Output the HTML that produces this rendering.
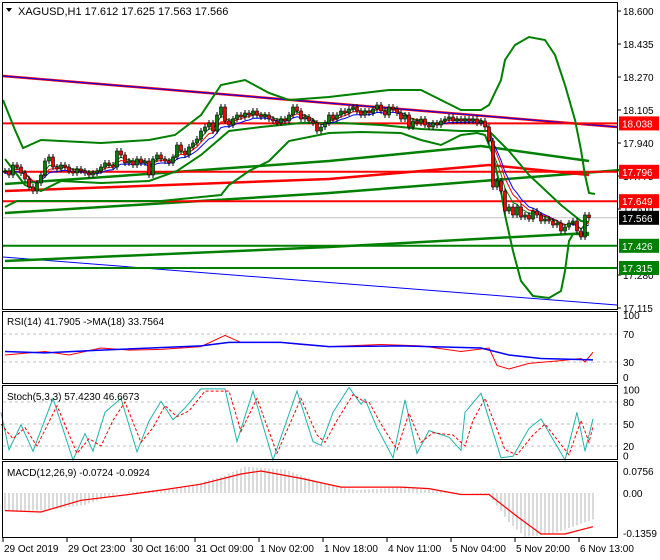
<!DOCTYPE html>
<html><head><meta charset="utf-8"><style>
html,body{margin:0;padding:0;background:#fff;}
svg{display:block;font-family:"Liberation Sans",sans-serif;}
</style></head><body>
<svg id="chart" width="660" height="560" xmlns="http://www.w3.org/2000/svg">
<rect x="0" y="0" width="660" height="560" fill="#fff"/>
<g id="main"></g>
<g id="rsi"></g>
<g id="stoch"></g>
<g id="macd"></g>
<g id="frame">
<rect x="2.5" y="2.5" width="615" height="307" fill="none" stroke="#000"/>
<rect x="2.5" y="311.5" width="615" height="72" fill="none" stroke="#000"/>
<rect x="2.5" y="385.5" width="615" height="74" fill="none" stroke="#000"/>
<rect x="2.5" y="461.5" width="615" height="76" fill="none" stroke="#000"/>
</g>
<text x="18" y="15" font-size="11">XAGUSD,H1  17.612 17.625 17.563 17.566</text>
<path d="M6,8 L12,8 L9,12 Z" fill="#000"/>
<text x="7" y="325" font-size="10">RSI(14) 41.7905  -&gt;MA(18) 33.7564</text>
<text x="7" y="400" font-size="10">Stoch(5,3,3) 57.4230 46.6673</text>
<text x="7" y="476" font-size="10">MACD(12,26,9) -0.0724 -0.0924</text>
<g id="dates"></g>
</svg>
<script>
// ---------- data ----------
const closes=[17.80,17.78,17.83,17.82,17.79,17.76,17.72,17.70,17.74,17.78,17.85,17.87,17.82,
17.81,17.83,17.82,17.80,17.79,17.81,17.80,17.79,17.78,17.79,17.80,17.82,17.84,17.83,17.82,17.90,
17.88,17.84,17.85,17.83,17.86,17.84,17.85,17.78,17.86,17.88,17.86,17.85,17.84,17.87,
17.93,17.90,17.88,17.92,17.94,17.96,18.00,18.02,18.04,18.00,18.08,18.12,18.05,
18.03,18.06,18.08,18.07,18.09,18.08,18.10,18.08,18.07,18.08,18.06,18.05,18.04,18.06,18.05,18.08,
18.12,18.10,18.06,18.07,18.05,18.04,18.00,18.02,18.04,18.08,
18.06,18.08,18.10,18.09,18.11,18.12,18.10,18.08,18.10,18.09,18.11,18.13,18.10,18.08,18.12,18.11,18.09,18.06,18.08,
18.02,18.05,18.04,18.06,18.03,18.02,18.04,18.03,18.05,18.06,18.07,18.05,18.06,18.05,
18.06,18.05,18.06,18.04,18.05,18.02,17.95,17.72,17.75,17.70,17.60,17.62,17.58,
17.62,17.57,17.58,17.56,17.60,17.58,17.55,17.56,17.55,17.53,17.54,17.50,17.52,
17.54,17.55,17.50,17.47,17.58,17.566];
const priceTicks=[18.600,18.435,18.270,18.105,17.940,17.775,17.610,17.280,17.115];
const redLevels=[18.038,17.796,17.649];
const greenLevels=[17.426,17.315];
const lastPrice=17.566;
// indicator series as [barIndex, value]
const bbUpper=[[-0.5,18.155],[2.5,18.005],[4.5,17.915],[9,17.955],[24,17.94],[36,17.955],[42.5,17.98],[49,18.08],[54,18.23],[60,18.255],[66,18.19],[71,18.155],[81,18.17],[96,18.205],[104,18.205],[109,18.155],[114,18.105],[119,18.105],[121,18.13],[124,18.255],[125,18.355],[127.5,18.43],[131,18.47],[135,18.455],[137.5,18.38],[140,18.23],[142.5,18.055],[144,17.905],[145,17.78],[146,17.69],[147.5,17.685]];
const bbMid=[[0,17.86],[5,17.73],[9,17.70],[14,17.75],[24,17.74],[36,17.75],[43,17.80],[49,17.88],[56,18.00],[64,18.02],[74,18.04],[84,18.04],[94,18.03],[104,18.01],[114,18.00],[121,18.00],[126,17.90],[131,17.78],[139,17.63],[144,17.55],[146,17.545]];
const bbLower=[[0,17.62],[3,17.65],[7,17.65],[14,17.65],[24,17.65],[39,17.65],[49,17.67],[54,17.68],[56,17.73],[61,17.80],[66,17.85],[71,17.95],[81,17.99],[89,17.995],[99,17.99],[104,17.955],[109,17.93],[114,17.98],[118,17.99],[120,17.98],[122,17.88],[124,17.70],[125,17.58],[127,17.40],[129,17.25],[132,17.175],[136,17.165],[139,17.20],[140,17.30],[141,17.45],[142,17.485],[146,17.48]];
const dGreenA=[[0,17.735],[39,17.79],[81,17.85],[119,17.925],[146,17.85]];
const dRed=[[0,17.70],[81,17.76],[121,17.83],[146,17.78]];
const dGreenB=[[0,17.59],[81,17.69],[154,17.805]];
const dGreenC=[[0,17.35],[81,17.42],[146,17.49]];
const trendTop=[[-0.5,18.275],[153,18.02]];
const trendLow=[[-0.5,17.37],[153,17.13]];
const rsiVals=[[0,40],[10,45],[16,40],[24,50],[31,47],[39,48],[49,52],[55,68],[59,58],[69,58],[74,55],[81,52],[94,55],[104,53],[114,45],[121,50],[123,25],[126,20],[131,28],[139,32],[144,35],[145,30],[147,44]];
const rsiMA=[[0,45],[10,43],[24,47],[49,53],[56,58],[69,58],[81,52],[99,53],[119,50],[126,40],[134,35],[147,33]];
const rsiTicks=[100,70,30,0];
const stochK=[[-1,66],[1,15],[4,49],[7,13],[12,85],[17,1],[20,37],[22,13],[25,66],[29,85],[33,12],[36,54],[39,81],[42,56],[45,72],[49,98],[55,98],[58,26],[62,95],[67,1],[73,95],[77,26],[79,21],[82,66],[86,100],[89,77],[90,84],[93,45],[97,4],[100,83],[103,10],[106,41],[111,32],[114,14],[115,66],[119,92],[124,4],[127,6],[131,44],[134,57],[140,1],[143,66],[145,13],[147,57]];
const stochD=[[-1,50],[2,30],[5,45],[8,20],[13,75],[18,10],[21,30],[24,20],[27,55],[30,80],[34,25],[37,45],[40,75],[43,60],[46,68],[50,95],[56,95],[59,40],[63,85],[68,10],[74,85],[78,35],[80,25],[83,55],[87,90],[90,80],[91,80],[94,50],[98,15],[101,65],[104,25],[107,38],[112,35],[115,20],[117,55],[120,85],[125,15],[128,8],[132,35],[135,50],[141,8],[144,55],[146,25],[147,47]];
const stochTicks=[100,80,50,20,0];
const macdSignal=[[0,-0.06],[9,-0.065],[19,-0.025],[31,-0.005],[39,0.01],[49,0.03],[59,0.065],[64,0.075],[74,0.05],[84,0.02],[99,0.02],[106,0.015],[114,-0.005],[121,-0.005],[128,-0.08],[134,-0.14],[140,-0.14],[147,-0.115]];
const macdHist=[[0,-0.06],[10,-0.06],[20,-0.04],[29,0],[45,0.02],[55,0.06],[60,0.09],[70,0.08],[80,0.03],[88,0.01],[100,0.02],[110,0.005],[121,-0.005],[126,-0.1],[130,-0.15],[137,-0.14],[147,-0.09]];
const macdTicks=[0.0756,0.00,-0.1359];
const dateLabels=["29 Oct 2019","29 Oct 23:00","30 Oct 16:00","31 Oct 09:00","1 Nov 02:00","1 Nov 18:00","4 Nov 11:00","5 Nov 04:00","5 Nov 20:00","6 Nov 13:00"];
const dateBars=[0,16,32,48,64,80,96,112,128,144];

// ---------- axes ----------
const NS="http://www.w3.org/2000/svg";
const xb=i=>5+i*4;
const yP=p=>11+(18.6-p)*200;
const yR=v=>383-v*0.7;
const yS=v=>460.7-v*0.733;
const yM=v=>493-v*293;
function mk(par,tag,at){const e=document.createElementNS(NS,tag);for(const k in at)e.setAttribute(k,at[k]);document.getElementById(par).appendChild(e);return e;}
function line(par,pts,fy,col,w,name,dash){
  const d=pts.map((p,i)=>(i?'L':'M')+xb(p[0]).toFixed(1)+','+fy(p[1]).toFixed(1)).join(' ');
  const e=mk(par,'path',{d:d,fill:'none',stroke:col,'stroke-width':w});
  if(dash)e.setAttribute('stroke-dasharray',dash);
  
  
  return e;
}
function hline(par,y,col,w,name,dash){
  const e=mk(par,'line',{x1:3,x2:617,y1:y,y2:y,stroke:col,'stroke-width':w});
  if(dash)e.setAttribute('stroke-dasharray',dash);
  
  
}
function label(par,x,y,txt,name,col){
  const t=mk(par,'text',{x:x,y:y,'font-size':10,fill:col||'#000'});t.textContent=txt;
  
  
}

// ---------- price pane ----------
priceTicks.forEach(p=>{
  mk('main','line',{x1:617,x2:621,y1:yP(p),y2:yP(p),stroke:'#000'});
  label('main',623,yP(p)+4,p.toFixed(3),'price-tick');
});
hline('main',yP(lastPrice),'#c0c0c0',1,'last-price-line');
line('main',trendLow,yP,'#0000ff',1,'lower-trendline');
line('main',dGreenC,yP,'#008000',2.5,'green-channel-lower');
line('main',dGreenB,yP,'#008000',2.5,'green-channel-mid');
line('main',dRed,yP,'#ff0000',2.5,'red-channel');
line('main',dGreenA,yP,'#008000',2.5,'green-channel-upper');
line('main',trendTop,yP,'#ff0000',2.5,'upper-trendline-red');
line('main',trendTop,yP,'#0000ff',1,'upper-trendline-blue');
redLevels.forEach(p=>hline('main',yP(p),'#ff0000',2,'resistance-level'));
greenLevels.forEach(p=>hline('main',yP(p),'#008000',2,'support-level'));
line('main',bbUpper,yP,'#008000',2,'bollinger-upper');
line('main',bbLower,yP,'#008000',2,'bollinger-lower');
line('main',bbMid,yP,'#008000',2,'bollinger-middle');
// EMAs computed from closes
function ema(n,off){let e=closes[0];const out=[];closes.forEach((c,i)=>{e=e+(c-e)*2/(n+1);out.push([i,e+off]);});return out;}
line('main',ema(8,-0.01),yP,'#0000ff',1,'ema-slow');
line('main',ema(6,0),yP,'#ff0000',1,'ema-mid');
line('main',ema(4,0.005),yP,'#008000',1,'ema-fast');
closes.forEach((c,i)=>{
  const o=i?closes[i-1]:c;
  const hi=Math.max(o,c)+0.015,lo=Math.min(o,c)-0.015;
  const x=xb(i);
  const w=mk('main','line',{x1:x,x2:x,y1:yP(hi),y2:yP(lo),stroke:'#000'});
  
  
  const top=yP(Math.max(o,c)),h=Math.max(1,Math.abs(yP(o)-yP(c)));
  const b=mk('main','rect',{x:x-1.5,y:top,width:3,height:h,fill:c>=o?'#008000':'#ff0000',stroke:'#000','stroke-width':0.6});
  
  
});
function tag(p,col,name){
  const y=yP(p);
  const r=mk('main','rect',{x:619,y:y-7,width:40,height:14,fill:col});
  
  
  label('main',622,y+4,p.toFixed(3),name+'-text','#fff');
}
redLevels.forEach(p=>tag(p,'#ff0000','resistance-tag'));
greenLevels.forEach(p=>tag(p,'#008000','support-tag'));
tag(lastPrice,'#000','last-price-tag');

// ---------- RSI ----------
[70,30].forEach(v=>hline('rsi',yR(v),'#c0c0c0',1,'rsi-level','3,3'));
rsiTicks.forEach(v=>label('rsi',623,yR(v)+(v==100?6:v==0?-2:4),String(v),'rsi-tick'));
line('rsi',rsiVals,yR,'#ff0000',1,'rsi-line');
line('rsi',rsiMA,yR,'#0000ff',1.5,'rsi-ma-line');

// ---------- Stochastic ----------
[80,50,20].forEach(v=>hline('stoch',yS(v),'#c0c0c0',1,'stoch-level','3,3'));
stochTicks.forEach(v=>label('stoch',623,yS(v)+(v==100?6:v==0?-1:4),String(v),'stoch-tick'));
line('stoch',stochK,yS,'#20b2aa',1,'stoch-main');
line('stoch',stochD,yS,'#ff0000',1,'stoch-signal','3,2');

// ---------- MACD ----------
(function(){
  for(let i=0;i<148;i++){
    let k=0;while(k<macdHist.length-2&&macdHist[k+1][0]<i)k++;
    const a=macdHist[k],b=macdHist[k+1];
    const t=Math.min(1,Math.max(0,(i-a[0])/(b[0]-a[0])));
    const v=a[1]+(b[1]-a[1])*t;
    const e=mk('macd','line',{x1:xb(i),x2:xb(i),y1:yM(0),y2:yM(v),stroke:'#b4b4b4','stroke-width':1});
    
    
  }
})();
line('macd',macdSignal,yM,'#ff0000',1.2,'macd-signal');
macdTicks.forEach(v=>label('macd',623,yM(v)+4,v.toFixed(v==0?2:4),'macd-tick'));

// ---------- time axis ----------
dateLabels.forEach((d,i)=>{
  const x=xb(dateBars[i])-2;
  mk('dates','line',{x1:x,x2:x,y1:538,y2:542,stroke:'#000'});
  label('dates',x+1,552,d,'date-label');
});
</script>
</body></html>
